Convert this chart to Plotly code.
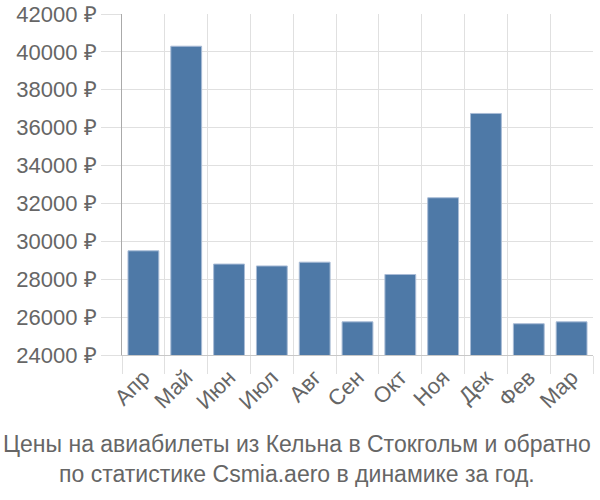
import plotly.graph_objects as go

months = ["Апр", "Май", "Июн", "Июл", "Авг", "Сен", "Окт", "Ноя", "Дек", "Фев", "Мар"]
prices = [29500, 40300, 28800, 28700, 28900, 25750, 28250, 32300, 36750, 25650, 25750]
y_ticks = [24000, 26000, 28000, 30000, 32000, 34000, 36000, 38000, 40000, 42000]
y_labels = [f"{v} ₽" for v in y_ticks]
title_text = "Цены на авиабилеты из Кельна в Стокгольм и обратно<br>по статистике Csmia.aero в динамике за год."

fig = go.Figure(go.Bar(
    x=months, y=prices,
    marker=dict(color="#4e79a7", line=dict(color="#a9bcd6", width=1)),
))

fig.update_layout(
    width=600, height=500,
    margin=dict(l=122, r=7, t=14, b=145, autoexpand=False),
    paper_bgcolor="white", plot_bgcolor="white",
    bargap=0.28,
    font=dict(family="Liberation Sans, Arial, sans-serif", size=22, color="#666666"),
    showlegend=False,
    xaxis=dict(
        tickson="boundaries", showgrid=True, gridcolor="#e0e0e0", gridwidth=1,
        ticks="outside", ticklen=18, tickcolor="#e0e0e0",
        tickangle=-45, showline=True, linecolor="#c8c8c8", linewidth=1,
        tickfont=dict(size=22, color="#666666"), automargin=False,
    ),
    yaxis=dict(
        range=[24000, 42000], tickvals=y_ticks, ticktext=y_labels,
        showgrid=True, gridcolor="#e0e0e0", gridwidth=1,
        ticks="outside", ticklen=20, tickcolor="#e0e0e0",
        showline=True, linecolor="#aaaaaa", linewidth=1,
        tickfont=dict(size=22, color="#666666"), zeroline=False, automargin=False,
    ),
    annotations=[dict(
        text=title_text, x=0.5, xref="paper", y=0, yref="paper",
        xanchor="center", yanchor="top", yshift=-74, xshift=-61,
        showarrow=False, font=dict(size=23, color="#666666"),
    )],
)

fig.write_html("out.html")
